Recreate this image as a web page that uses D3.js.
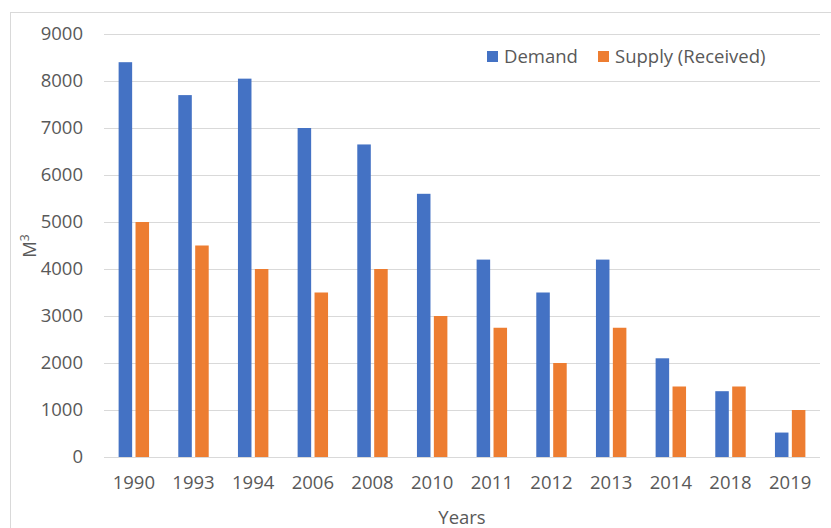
<!DOCTYPE html>
<html>
<head>
<meta charset="utf-8">
<script src="https://cdn.jsdelivr.net/npm/d3@7"></script>
<style>
  html, body { margin: 0; padding: 0; background: #fff; }
</style>
</head>
<body>
<div id="chart"></div>
<script>
// Demand vs supply (received), M³ per year
const YEARS = ['1990', '1993', '1994', '2006', '2008', '2010', '2011', '2012', '2013', '2014', '2018', '2019'];
const DEMAND = [8400, 7700, 8050, 7000, 6650, 5600, 4200, 3500, 4200, 2100, 1400, 520];
const SUPPLY = [5000, 4500, 4000, 3500, 4000, 3000, 2750, 2000, 2750, 1500, 1500, 1000];
const SERIES = ['Demand', 'Supply (Received)'];
const Y_TICKS = [0, 1000, 2000, 3000, 4000, 5000, 6000, 7000, 8000, 9000];

const COLORS = { 'Demand': '#4472C4', 'Supply (Received)': '#ED7D31' };
const FONT = '"Open Sans", "Noto Sans", sans-serif';
const FS = 18.5;
const TXT = '#595959';

const W = 831, H = 528;
const M = { top: 34, right: 11, bottom: 71, left: 104 };
const iW = W - M.left - M.right;
const iH = H - M.top - M.bottom;

const rows = YEARS.map((y, i) => ({ year: y, values: [
  { key: SERIES[0], v: DEMAND[i] },
  { key: SERIES[1], v: SUPPLY[i] },
]}));

const svg = d3.select('#chart').append('svg')
  .attr('width', W).attr('height', H)
  .style('font-family', FONT);

// chart frame (runs off the right / bottom edge)
svg.append('rect')
  .attr('x', 10.5).attr('y', 12.5)
  .attr('width', 840).attr('height', 540)
  .attr('fill', 'none').attr('stroke', '#d9d9d9');

const g = svg.append('g').attr('transform', `translate(${M.left},${M.top})`);

const x0 = d3.scaleBand().domain(YEARS).range([0, iW])
  .paddingInner(0.49).paddingOuter(0.245);
const x1 = d3.scaleBand().domain(SERIES).range([0, x0.bandwidth()])
  .paddingInner(0.2);
const y = d3.scaleLinear().domain([0, 9000]).range([iH, 0]);

// gridlines
g.append('g')
  .selectAll('line')
  .data(Y_TICKS)
  .join('line')
  .attr('x1', 0).attr('x2', iW)
  .attr('y1', d => Math.round(y(d)) + 0.5).attr('y2', d => Math.round(y(d)) + 0.5)
  .attr('stroke', '#d9d9d9').attr('stroke-width', 1);

// y axis
g.append('g')
  .attr('transform', 'translate(-21,0)')
  .call(d3.axisLeft(y).tickValues(Y_TICKS).tickFormat(d3.format('d')).tickSize(0).tickPadding(0))
  .call(ax => ax.select('.domain').remove())
  .call(ax => ax.selectAll('text')
    .attr('font-family', FONT).attr('font-size', FS).attr('fill', TXT));

// bars
g.append('g')
  .selectAll('g')
  .data(rows)
  .join('g')
  .attr('transform', d => `translate(${x0(d.year)},0)`)
  .selectAll('rect')
  .data(d => d.values)
  .join('rect')
  .attr('x', d => x1(d.key))
  .attr('y', d => y(d.v))
  .attr('width', x1.bandwidth())
  .attr('height', d => iH - y(d.v))
  .attr('fill', d => COLORS[d.key]);

// x axis
g.append('g')
  .attr('transform', `translate(0,${iH})`)
  .call(d3.axisBottom(x0).tickSize(0).tickPadding(19))
  .call(ax => ax.select('.domain').remove())
  .call(ax => ax.selectAll('text')
    .attr('font-family', FONT).attr('font-size', FS).attr('fill', TXT));

// axis titles
svg.append('text')
  .attr('x', M.left + iW / 2).attr('y', 524)
  .attr('text-anchor', 'middle')
  .attr('font-size', FS).attr('fill', TXT)
  .text('Years');

const yt = svg.append('text')
  .attr('transform', 'translate(36,246) rotate(-90)')
  .attr('text-anchor', 'middle')
  .attr('font-size', FS).attr('fill', TXT);
yt.append('tspan').text('M');
yt.append('tspan').attr('font-size', 12).attr('dy', -7).text('3');

// legend
const legX = [487, 598];
const leg = svg.append('g');
SERIES.forEach((s, i) => {
  leg.append('rect')
    .attr('x', legX[i]).attr('y', 51)
    .attr('width', 11).attr('height', 11)
    .attr('fill', COLORS[s]);
  leg.append('text')
    .attr('x', legX[i] + 17).attr('y', 63)
    .attr('font-size', FS).attr('fill', TXT)
    .text(s);
});
</script>
</body>
</html>
